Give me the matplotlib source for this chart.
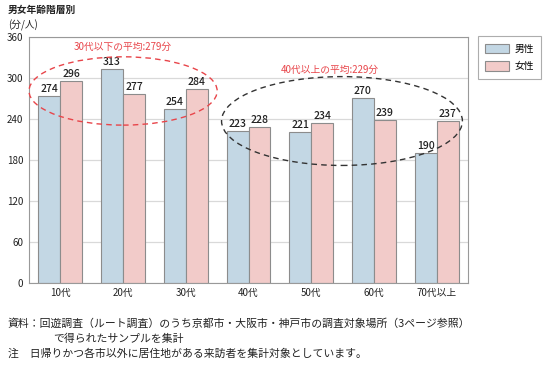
import matplotlib
matplotlib.use('Agg')
import matplotlib.pyplot as plt
from matplotlib.patches import Ellipse
import numpy as np

plt.rcParams['font.family'] = ['Noto Sans CJK JP', 'DejaVu Sans']

# data
categories = ['10代', '20代', '30代', '40代', '50代', '60代', '70代以上']
male = [274, 313, 254, 223, 221, 270, 190]
female = [296, 277, 284, 228, 234, 239, 237]
yticks = [0, 60, 120, 180, 240, 300, 360]

MALE_COLOR = '#c3d7e4'
FEMALE_COLOR = '#f2cbc9'
EDGE_COLOR = '#8c8c8c'

fig = plt.figure(figsize=(5.5, 3.66), dpi=100)
ax = fig.add_axes([0.0527, 0.2268, 0.7983, 0.6722])

x = np.arange(len(categories))
w = 0.35
ax.bar(x - w / 2, male, w, color=MALE_COLOR, edgecolor=EDGE_COLOR, linewidth=0.8, label='男性', zorder=2)
ax.bar(x + w / 2, female, w, color=FEMALE_COLOR, edgecolor=EDGE_COLOR, linewidth=0.8, label='女性', zorder=2)

for xi, v in zip(x - w / 2, male):
    ax.text(xi, v + 3, str(v), ha='center', va='bottom', fontsize=7.5,
            fontweight='medium', color='#222222', zorder=3)
for xi, v in zip(x + w / 2, female):
    ax.text(xi, v + 3, str(v), ha='center', va='bottom', fontsize=7.5,
            fontweight='medium', color='#222222', zorder=3)

ax.set_xlim(-0.5, len(categories) - 0.5)
ax.set_ylim(0, 360)
ax.set_yticks(yticks)
ax.set_xticks(x)
ax.set_xticklabels(categories, fontsize=7)
ax.tick_params(axis='both', length=0, labelsize=7, colors='#222222')
ax.tick_params(axis='y', pad=4)
ax.yaxis.grid(True, color='#d9d9d9', linewidth=0.9, zorder=0)
ax.set_axisbelow(True)
for s in ax.spines.values():
    s.set_color('#999999')
    s.set_linewidth(0.8)

# average ellipses
ax.add_patch(Ellipse((1.0, 281), 3.0, 100, fill=False, edgecolor='#e8454a',
                     linestyle=(0, (4, 3)), linewidth=1.0, zorder=4, clip_on=False))
ax.add_patch(Ellipse((4.49, 237), 3.84, 130, fill=False, edgecolor='#333333',
                     linestyle=(0, (4, 3)), linewidth=1.0, zorder=4, clip_on=False))
ax.text(1.0, 346, '30代以下の平均:279分', ha='center', va='center', fontsize=7,
        color='#e8454a')
ax.text(4.3, 312, '40代以上の平均:229分', ha='center', va='center', fontsize=7,
        color='#e8454a')

leg = ax.legend(loc='upper left', bbox_to_anchor=(1.023, 1.003), borderaxespad=0,
                fontsize=7, frameon=True, fancybox=False, edgecolor='#999999',
                handlelength=2.4, handleheight=1.2, borderpad=0.75,
                labelspacing=0.75, handletextpad=0.6)
leg.get_frame().set_linewidth(0.8)

fig.text(8 / 550, 1 - 10 / 366, '男女年齢階層別', fontsize=7, fontweight='bold',
         va='center', ha='left', color='#222222')
fig.text(8 / 550, 1 - 25 / 366, '(分/人)', fontsize=7, va='center', ha='left',
         color='#222222')

fig.text(8 / 550, 1 - 324 / 366,
         '資料：回遊調査（ルート調査）のうち京都市・大阪市・神戸市の調査対象場所（3ページ参照）',
         fontsize=7.8, va='center', ha='left', color='#222222')
fig.text(53 / 550, 1 - 339 / 366, 'で得られたサンプルを集計', fontsize=7.8,
         va='center', ha='left', color='#222222')
fig.text(8 / 550, 1 - 354 / 366,
         '注　日帰りかつ各市以外に居住地がある来訪者を集計対象としています。',
         fontsize=7.8, va='center', ha='left', color='#222222')

fig.savefig('out.png', dpi=100)
plt.close(fig)
